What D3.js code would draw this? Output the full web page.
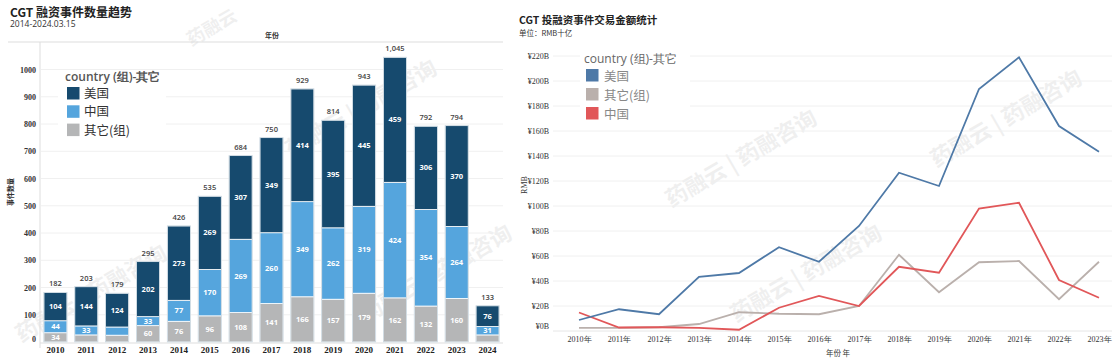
<!DOCTYPE html>
<html><head><meta charset="utf-8">
<script src="https://cdn.jsdelivr.net/npm/d3@7/dist/d3.min.js"></script>
<style>
html,body{margin:0;padding:0;background:#fff;}
svg{display:block;}
</style></head>
<body>
<svg id="chart" width="1114" height="358"></svg>
<script>
// ---------- Left chart data ----------
const years = ["2010","2011","2012","2013","2014","2015","2016","2017","2018","2019","2020","2021","2022","2023","2024"];
const usCount =    [104,144,124,202,273,269,307,349,414,395,445,459,306,370,76];
const chinaCount = [44, 33, 30, 33, 77, 170,269,260,349,262,319,424,354,264,31];
const otherCount = [34, 26, 25, 60, 76, 96, 108,141,166,157,179,162,132,160,26];
const totals =     ["182","203","179","295","426","535","684","750","929","814","943","1,045","792","794","133"];
const leftTicks = [0,100,200,300,400,500,600,700,800,900,1000];
const showUS =    [1,1,1,1,1,1,1,1,1,1,1,1,1,1,1];
const showChina = [1,1,0,1,1,1,1,1,1,1,1,1,1,1,1];
const showOther = [1,0,0,1,1,1,1,1,1,1,1,1,1,1,0];

// ---------- Right chart data ----------
const lineYears = ["2010年","2011年","2012年","2013年","2014年","2015年","2016年","2017年","2018年","2019年","2020年","2021年","2022年","2023年"];
const usAmount =    [8.8,17.4,13.4,43.4,46.4,67,55.4,84,126.6,116,193.6,219,164,143.4];
const otherAmount = [2.5,2.5,3,5.6,15,13.8,13.4,20,61,31,55,56,25.4,55.4];
const chinaAmount = [14.8,2.8,3,2.5,1,18.6,28,20,51.4,46.6,98,102.6,40.8,26.6];
const rightTicks = [0,20,40,60,80,100,120,140,160,180,200,220];

const svg = d3.select("#chart");
const CJK = "'Noto Sans CJK SC','Noto Sans',sans-serif";
const SERIF = "'Liberation Serif','DejaVu Serif',serif";
const SANS = "'Open Sans','Noto Sans','Liberation Sans',sans-serif";

// ---------- watermarks ----------
const wm = [[215,33,18],[95,300,22],[365,115,22],[440,280,22],[745,165,22],[810,280,22],[1010,125,22]];
const wmTexts = ["药融云","药融云 | 药融咨询","药融云 | 药融咨询","药融云 | 药融咨询","药融云 | 药融咨询","药融云 | 药融咨询","药融云 | 药融咨询"];
const wmg = svg.append("g");
wm.forEach((p,i)=>{
  wmg.append("text").attr("x",p[0]).attr("y",p[1])
    .attr("transform",`rotate(-30,${p[0]},${p[1]})`)
    .attr("text-anchor","middle")
    .style("font-family",CJK).style("font-size",p[2]+"px").style("font-weight","bold")
    .style("fill","#000").style("opacity",0.06).text(wmTexts[i]);
});

// ---------- Left chart ----------
const colUS = "#164a6e", colCN = "#55a5dd", colOT = "#b5b6b7";
const xL = d3.scaleBand().domain(years).range([40,503]).paddingInner(0.25).paddingOuter(0.125);
const yL = d3.scaleLinear().domain([0,1000]).range([342,69.5]);

svg.append("text").attr("x",10).attr("y",17)
  .style("font-family",CJK).style("font-size","12px").style("font-weight","bold").style("fill","#222")
  .text("CGT 融资事件数量趋势");
svg.append("text").attr("x",10).attr("y",27)
  .style("font-family",SANS).style("font-size","8.5px").style("fill","#333")
  .text("2014-2024.03.15");
svg.append("text").attr("x",272).attr("y",38).attr("text-anchor","middle")
  .style("font-family",CJK).style("font-size","7px").style("font-weight","bold").style("fill","#333")
  .text("年份");

// frame lines
svg.append("line").attr("x1",8).attr("x2",503).attr("y1",42).attr("y2",42).style("stroke","#ddd");
svg.append("line").attr("x1",40).attr("x2",40).attr("y1",42).attr("y2",348).style("stroke","#ddd");

// grid
svg.append("g").selectAll("line").data(leftTicks.slice(1)).join("line")
  .attr("x1",41).attr("x2",503).attr("y1",d=>yL(d)).attr("y2",d=>yL(d))
  .style("stroke","#f0f0f0");
svg.append("line").attr("x1",40).attr("x2",503).attr("y1",yL(0)+1).attr("y2",yL(0)+1).style("stroke","#ddd");

// y axis labels
const yAxisL = svg.append("g").attr("transform","translate(36,0)")
  .call(d3.axisLeft(yL).tickValues(leftTicks).tickSize(0).tickPadding(0).tickFormat(d3.format("d")));
yAxisL.select(".domain").remove();
yAxisL.selectAll("text").style("font-family",SERIF).style("font-size","8px").style("font-weight","bold").style("fill","#333")
  .attr("dy",d=> d===0 ? "-0.1em" : "0.32em");
svg.append("text").attr("transform","translate(13,192) rotate(-90)").attr("text-anchor","middle")
  .style("font-family",CJK).style("font-size","7px").style("font-weight","bold").style("fill","#333")
  .text("事件数量");

// x axis labels
const xAxisL = svg.append("g").attr("transform","translate(0,345)")
  .call(d3.axisBottom(xL).tickSize(0).tickPadding(0));
xAxisL.select(".domain").remove();
xAxisL.selectAll("text").style("font-family",SERIF).style("font-size","9px").style("font-weight","bold").style("fill","#222").attr("dy","0.9em");

// stacked bars
const stackData = years.map((y,i)=>({year:y,us:usCount[i],cn:chinaCount[i],ot:otherCount[i],i}));
const stack = d3.stack().keys(["ot","cn","us"])(stackData);
const colors = {ot:colOT,cn:colCN,us:colUS};
const shows = {ot:showOther,cn:showChina,us:showUS};
const barsG = svg.append("g");
stack.forEach(layer=>{
  const g = barsG.append("g");
  g.selectAll("rect").data(layer).join("rect")
    .attr("x",d=>xL(d.data.year)).attr("width",xL.bandwidth())
    .attr("y",d=>yL(d[1])).attr("height",d=>yL(d[0])-yL(d[1]))
    .style("fill",colors[layer.key]).style("stroke","#fff").style("stroke-width",0.8);
  g.selectAll("text").data(layer.filter(d=>shows[layer.key][d.data.i])).join("text")
    .attr("x",d=>xL(d.data.year)+xL.bandwidth()/2).attr("y",d=>(yL(d[0])+yL(d[1]))/2)
    .attr("dy","0.35em").attr("text-anchor","middle")
    .style("font-family",SANS).style("font-size","7.5px").style("font-weight","bold").style("fill","#fff")
    .text(d=>d.data[layer.key]);
});
// outline of whole bar
barsG.append("g").selectAll("rect").data(stackData).join("rect")
  .attr("x",d=>xL(d.year)).attr("width",xL.bandwidth())
  .attr("y",d=>yL(d.us+d.cn+d.ot)).attr("height",d=>yL(0)-yL(d.us+d.cn+d.ot))
  .style("fill","none").style("stroke","#c9d6df").style("stroke-width",0.8);
// totals
svg.append("g").selectAll("text").data(stackData).join("text")
  .attr("x",d=>xL(d.year)+xL.bandwidth()/2).attr("y",d=>yL(d.us+d.cn+d.ot)-6)
  .attr("text-anchor","middle")
  .style("font-family",SANS).style("font-size","7.5px").style("font-weight","600").style("fill","#444")
  .text((d,i)=>totals[i]);

// left legend
const legL = svg.append("g");
legL.append("rect").attr("x",58).attr("y",70).attr("width",108).attr("height",71).style("fill","#fff");
legL.append("text").attr("x",65).attr("y",81)
  .style("font-family",SANS).style("font-size","12px").style("font-weight","600").style("fill","#555")
  .text("country (组)-其它");
const legLItems = ["美国","中国","其它(组)"];
const legLCols = [colUS,colCN,colOT];
legLItems.forEach((t,i)=>{
  legL.append("rect").attr("x",67).attr("y",87+i*18.3).attr("width",12.5).attr("height",12.5).style("fill",legLCols[i]);
  legL.append("text").attr("x",84).attr("y",98+i*18.3)
    .style("font-family",CJK).style("font-size","12.5px").style("fill","#333").text(t);
});

// ---------- Right chart ----------
const xR = d3.scalePoint().domain(lineYears).range([579,1099]);
const yR = d3.scaleLinear().domain([0,220]).range([331,56]);
svg.append("text").attr("x",519).attr("y",24)
  .style("font-family",CJK).style("font-size","10.5px").style("font-weight","bold").style("fill","#222")
  .text("CGT 投融资事件交易金额统计");
svg.append("text").attr("x",519).attr("y",36)
  .style("font-family",CJK).style("font-size","7.5px").style("fill","#333")
  .text("单位：RMB十亿");

svg.append("g").selectAll("line").data(rightTicks).join("line")
  .attr("x1",553).attr("x2",1112).attr("y1",d=>yR(d)).attr("y2",d=>yR(d))
  .style("stroke",d=>d===0?"#e6e6e6":"#f0f0f0");

const yAxisR = svg.append("g").attr("transform","translate(549,0)")
  .call(d3.axisLeft(yR).tickValues(rightTicks).tickSize(0).tickPadding(0).tickFormat(d=>"¥"+d+"B"));
yAxisR.select(".domain").remove();
yAxisR.selectAll("text").style("font-family",SERIF).style("font-size","8px").style("fill","#333")
  .attr("dy",d=> d===0 ? "-0.3em" : "0.32em");
svg.append("text").attr("transform","translate(527,185) rotate(-90)").attr("text-anchor","middle")
  .style("font-family",SERIF).style("font-size","8px").style("fill","#333").text("RMB");

const xAxisR = svg.append("g").attr("transform","translate(0,336)")
  .call(d3.axisBottom(xR).tickSize(0).tickPadding(0));
xAxisR.select(".domain").remove();
xAxisR.selectAll("text").style("font-family",SERIF).style("font-size","8px").style("fill","#333").attr("dy","0.7em");
svg.append("text").attr("x",838).attr("y",356).attr("text-anchor","middle")
  .style("font-family",CJK).style("font-size","7.5px").style("fill","#333").text("年份 年");

const line = d3.line().x((d,i)=>xR(lineYears[i])).y(d=>yR(d));
const series = [[otherAmount,"#bab0ac"],[chinaAmount,"#e15759"],[usAmount,"#4e79a7"]];
svg.append("g").selectAll("path").data(series).join("path")
  .attr("d",d=>line(d[0])).style("fill","none").style("stroke",d=>d[1]).style("stroke-width",1.8);

// right legend
const legR = svg.append("g");
legR.append("rect").attr("x",580).attr("y",47).attr("width",110).attr("height",77).style("fill","#fff").style("opacity",0.9);
legR.append("text").attr("x",584).attr("y",63)
  .style("font-family",SANS).style("font-size","12px").style("fill","#666")
  .text("country (组)-其它");
const legRItems = ["美国","其它(组)","中国"];
const legRCols = ["#4e79a7","#bab0ac","#e15759"];
legRItems.forEach((t,i)=>{
  legR.append("rect").attr("x",586).attr("y",69+i*19).attr("width",12.5).attr("height",12.5).style("fill",legRCols[i]);
  legR.append("text").attr("x",604).attr("y",80.5+i*19)
    .style("font-family",CJK).style("font-size","12.5px").style("fill","#888").text(t);
});
</script>
</body></html>
